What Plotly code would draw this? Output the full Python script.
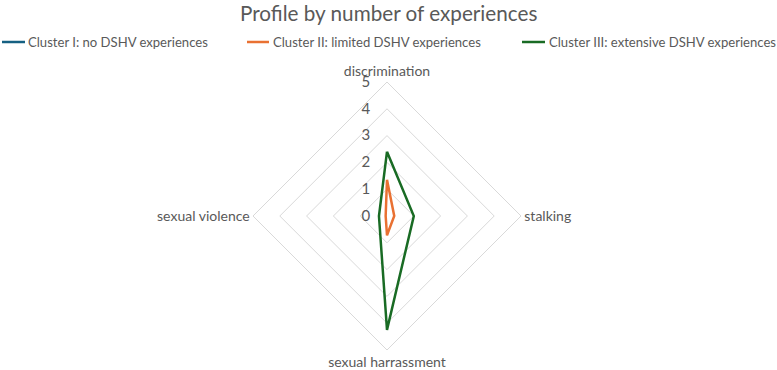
import plotly.graph_objects as go

categories = ["discrimination", "stalking", "sexual harrassment", "sexual violence"]
cluster1 = [0.0, 0.0, 0.0, 0.0]
cluster2 = [1.35, 0.27, 0.72, 0.05]
cluster3 = [2.4, 1.0, 4.25, 0.3]
series_names = ["Cluster I: no DSHV experiences",
                "Cluster II: limited DSHV experiences",
                "Cluster III: extensive DSHV experiences"]
colors = ["#156082", "#E97132", "#196B24"]
radial_ticks = [0, 1, 2, 3, 4, 5]

FONT = "Lato"
TXT = "#595959"

fig = go.Figure()
series = list(zip(series_names, [cluster1, cluster2, cluster3], colors))
# draw cluster I last so its centre dot sits on top
for name, vals, col in series[1:] + series[:1]:
    r = vals + [vals[0]]
    th = categories + [categories[0]]
    is_first = name == series_names[0]
    fig.add_trace(go.Scatterpolar(
        r=r, theta=th, name=name,
        mode="lines+markers" if is_first else "lines",
        line=dict(color=col, width=2.5),
        marker=dict(color="#0E2841", size=6) if is_first else None,
        showlegend=False,
    ))

cx, cy, R = 387, 216, 134
W, H = 777, 370
fig.update_layout(
    width=W, height=H,
    margin=dict(l=0, r=0, t=0, b=0),
    paper_bgcolor="white", plot_bgcolor="white",
    showlegend=False,
    font=dict(family=FONT, color=TXT, size=13),
    polar=dict(
        domain=dict(x=[(cx - R) / W, (cx + R) / W], y=[(H - cy - R) / H, (H - cy + R) / H]),
        bgcolor="white",
        gridshape="linear",
        radialaxis=dict(range=[0, 5], tickvals=radial_ticks, angle=90, tickangle=90,
                        side="counterclockwise",
                        showline=False, ticks="outside", ticklen=11,
                        tickcolor="rgba(0,0,0,0)", gridcolor="#D9D9D9", gridwidth=1,
                        tickfont=dict(size=15, color=TXT, family=FONT)),
        angularaxis=dict(rotation=90, direction="clockwise", showgrid=False,
                         showline=True, linecolor="#D9D9D9", linewidth=1, ticks="",
                         tickfont=dict(size=14, color=TXT, family=FONT)),
    ),
)

fig.add_annotation(text="Profile by number of experiences", x=389 / W, y=1 - 13 / H,
                   xref="paper", yref="paper", showarrow=False, xanchor="center", yanchor="middle",
                   font=dict(size=20.7, color=TXT, family=FONT))

leg_line = [(2, 25), (247, 269), (522, 545)]
leg_text = [26, 271, 547]
for name, col, (l0, l1), tx in zip(series_names, colors, leg_line, leg_text):
    fig.add_shape(type="line", xref="paper", yref="paper",
                  x0=l0 / W, x1=l1 / W, y0=1 - 42 / H, y1=1 - 42 / H,
                  line=dict(color=col, width=2.5))
    fig.add_annotation(text=name, x=tx / W, y=1 - 42 / H, xref="paper", yref="paper",
                       showarrow=False, xanchor="left", yanchor="middle",
                       font=dict(size=13.1, color=TXT, family=FONT))

fig.write_html("out.html")
